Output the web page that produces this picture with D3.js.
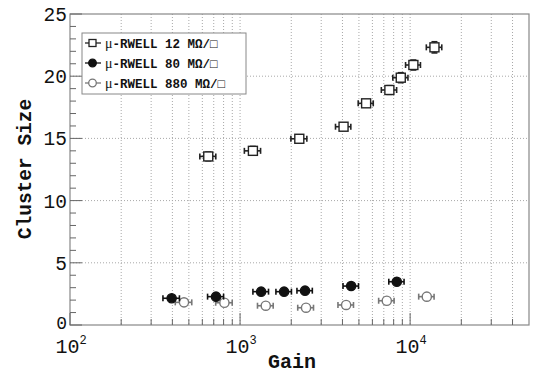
<!DOCTYPE html>
<html><head><meta charset="utf-8">
<script src="https://cdn.jsdelivr.net/npm/d3@7"></script>
<style>html,body{margin:0;padding:0;background:#fff;}svg{display:block;}</style>
</head><body>
<svg id="c" width="533" height="374"></svg>
<script>
// Data
const seriesNames = ["μ-RWELL 12 MΩ/□", "μ-RWELL 80 MΩ/□", "μ-RWELL 880 MΩ/□"];
const gain12  = [650, 1190, 2230, 4060, 5510, 7550, 8810, 10450, 13900];
const size12  = [13.55, 14.0, 14.97, 15.94, 17.82, 18.89, 19.88, 20.9, 22.32];
const gerr12  = [70, 130, 240, 420, 560, 780, 900, 1050, 1450];
const serr12  = [0.35, 0.35, 0.2, 0.25, 0.25, 0.35, 0.4, 0.4, 0.45];
const gain80  = [396, 722, 1330, 1815, 2410, 4500, 8350];
const size80  = [2.15, 2.28, 2.68, 2.68, 2.76, 3.13, 3.48];
const gerr80  = [44, 78, 140, 190, 250, 470, 860];
const serr80  = [0.12, 0.12, 0.12, 0.12, 0.12, 0.12, 0.12];
const gain880 = [468, 809, 1416, 2443, 4204, 7290, 12530];
const size880 = [1.82, 1.79, 1.55, 1.39, 1.61, 1.95, 2.28];
const gerr880 = [52, 90, 150, 260, 440, 760, 1300];
const serr880 = [0.1, 0.1, 0.1, 0.1, 0.1, 0.1, 0.1];
const xDomain = [100, 50000];
const yDomain = [0, 25];
const yTicks = [0, 5, 10, 15, 20, 25];
const xMajor = [100, 1000, 10000];
const xMinor = [200,300,400,500,600,700,800,900,2000,3000,4000,5000,6000,7000,8000,9000,20000,30000,40000];

const svg = d3.select("#c");
const L = 70, R = 529, T = 14, B = 325;
const x = d3.scaleLog().domain(xDomain).range([L, R]);
const y = d3.scaleLinear().domain(yDomain).range([B, T]);
const mono = "'Liberation Mono', 'DejaVu Sans Mono', monospace";
const gridC = "#a8a8a8", axC = "#888";

// grid
const g = svg.append("g");
g.selectAll("line.gx").data(xMajor.concat(xMinor).filter(v => v > 100)).join("line")
  .attr("x1", d => x(d)).attr("x2", d => x(d)).attr("y1", T).attr("y2", B)
  .attr("stroke", gridC).attr("stroke-width", 1).attr("stroke-dasharray", "1,2");
g.selectAll("line.gy").data(yTicks.filter(v => v > 0 && v < 25)).join("line")
  .attr("x1", L).attr("x2", R).attr("y1", d => y(d)).attr("y2", d => y(d))
  .attr("stroke", gridC).attr("stroke-width", 1).attr("stroke-dasharray", "1,2");

// frame
svg.append("rect").attr("x", L).attr("y", T).attr("width", R - L).attr("height", B - T)
  .attr("fill", "none").attr("stroke", axC).attr("stroke-width", 1.2);

// y ticks (inward)
const yMinor = d3.range(0, 25.01, 1);
svg.append("g").selectAll("line").data(yMinor).join("line")
  .attr("x1", L).attr("x2", d => L + (d % 5 === 0 ? 12 : 6))
  .attr("y1", d => y(d)).attr("y2", d => y(d)).attr("stroke", "#666").attr("stroke-width", 1);
// x ticks (inward)
svg.append("g").selectAll("line").data(xMajor.concat(xMinor)).join("line")
  .attr("x1", d => x(d)).attr("x2", d => x(d))
  .attr("y1", B).attr("y2", d => B - (xMajor.includes(d) ? 12 : 6)).attr("stroke", "#666").attr("stroke-width", 1);

// y tick labels
svg.append("g").selectAll("text").data(yTicks).join("text")
  .attr("x", 67).attr("y", d => y(d) + (d === 0 ? 4 : 7)).attr("text-anchor", "end")
  .attr("font-family", mono).attr("font-size", d => d === 0 ? 18 : 19.5).attr("fill", "#111").text(d => d);
// x tick labels
const xl = svg.append("g").selectAll("text").data(xMajor).join("text")
  .attr("x", d => x(d) + 1).attr("y", 353).attr("text-anchor", "middle")
  .attr("font-family", mono).attr("font-size", 20).attr("fill", "#111");
xl.append("tspan").text("10");
xl.append("tspan").attr("dy", -9).attr("font-size", 12).text(d => Math.round(Math.log10(d)));

// axis titles
svg.append("text").attr("x", 292).attr("y", 368).attr("text-anchor", "middle")
  .attr("font-family", mono).attr("font-weight", "bold").attr("font-size", 20).attr("fill", "#111").text("Gain");
svg.append("text").attr("transform", "translate(31,169) rotate(-90)").attr("text-anchor", "middle")
  .attr("font-family", mono).attr("font-weight", "bold").attr("font-size", 19.5).attr("fill", "#111").text("Cluster Size");

// series drawing
function drawSeries(gx, sy, ge, se, color, marker, fill) {
  const pts = gx.map((v, i) => ({gx: v, sy: sy[i], ge: ge[i], se: se[i]}));
  const s = svg.append("g").attr("stroke", color).attr("stroke-width", 1.6);
  pts.forEach(p => {
    const cx = x(p.gx), cy = y(p.sy);
    const x0 = x(p.gx - p.ge), x1 = x(p.gx + p.ge);
    const y0 = y(p.sy - p.se), y1 = y(p.sy + p.se);
    s.append("line").attr("x1", x0).attr("x2", x1).attr("y1", cy).attr("y2", cy);
    s.append("line").attr("x1", x0).attr("x2", x0).attr("y1", cy - 3).attr("y2", cy + 3);
    s.append("line").attr("x1", x1).attr("x2", x1).attr("y1", cy - 3).attr("y2", cy + 3);
    if (y1 < cy - 4) {
      s.append("line").attr("x1", cx).attr("x2", cx).attr("y1", y0).attr("y2", y1);
      s.append("line").attr("x1", cx - 3).attr("x2", cx + 3).attr("y1", y0).attr("y2", y0);
      s.append("line").attr("x1", cx - 3).attr("x2", cx + 3).attr("y1", y1).attr("y2", y1);
    }
    drawMarker(s, marker, cx, cy, color, fill);
  });
}
function drawMarker(s, marker, cx, cy, color, fill) {
  if (marker === "square") {
    s.append("rect").attr("x", cx - 4.5).attr("y", cy - 4.5).attr("width", 9).attr("height", 9)
      .attr("fill", fill).attr("stroke", color).attr("stroke-width", 1.4);
  } else {
    s.append("circle").attr("cx", cx).attr("cy", cy).attr("r", 4.6)
      .attr("fill", fill).attr("stroke", color).attr("stroke-width", 1.4);
  }
}
drawSeries(gain880, size880, gerr880, serr880, "#777", "circle", "#fff");
drawSeries(gain80, size80, gerr80, serr80, "#111", "circle", "#111");
drawSeries(gain12, size12, gerr12, serr12, "#222", "square", "#fff");

// legend
const lg = svg.append("g");
lg.append("rect").attr("x", 82).attr("y", 33).attr("width", 164).attr("height", 61)
  .attr("fill", "#fff").attr("stroke", "#888").attr("stroke-width", 1);
const legStyle = [["#222", "square", "#fff"], ["#111", "circle", "#111"], ["#777", "circle", "#fff"]];
seriesNames.forEach((n, i) => {
  const yy = 43 + i * 20;
  const [c, m, f] = legStyle[i];
  const s = lg.append("g").attr("stroke", c).attr("stroke-width", 1.3);
  s.append("line").attr("x1", 85).attr("x2", 101).attr("y1", yy).attr("y2", yy);
  if (m === "square") {
    s.append("rect").attr("x", 89).attr("y", yy - 3.5).attr("width", 7).attr("height", 7).attr("fill", f);
  } else {
    s.append("circle").attr("cx", 92.5).attr("cy", yy).attr("r", 3.8).attr("fill", f);
  }
  const t = lg.append("text").attr("x", 105).attr("y", yy + 4.5)
    .attr("font-family", mono).attr("font-size", 12.5).attr("font-weight", "bold").attr("fill", "#111");
  t.append("tspan").attr("font-weight", "normal").attr("font-family", "'Liberation Serif', serif").attr("font-size", 14).text(n.slice(0, 1));
  t.append("tspan").text(n.slice(1));
});
</script>
</body></html>
